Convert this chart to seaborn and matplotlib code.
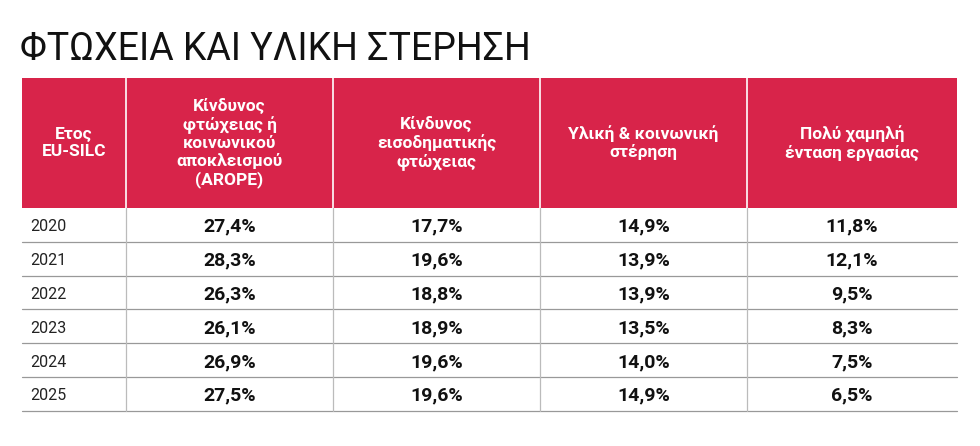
import matplotlib
matplotlib.use("Agg")
import matplotlib.pyplot as plt
import seaborn as sns
from matplotlib.patches import Rectangle

sns.set_style("white")
plt.rcParams["font.family"] = ["Roboto", "DejaVu Sans"]

title = "ΦΤΩΧΕΙΑ ΚΑΙ ΥΛΙΚΗ ΣΤΕΡΗΣΗ"
headers = ["Ετος\nEU-SILC",
           "Κίνδυνος\nφτώχειας ή\nκοινωνικού\nαποκλεισμού\n(AROPE)",
           "Κίνδυνος\nεισοδηματικής\nφτώχειας",
           "Υλική & κοινωνική\nστέρηση",
           "Πολύ χαμηλή\nένταση εργασίας"]
years = ["2020", "2021", "2022", "2023", "2024", "2025"]
arope = ["27,4%", "28,3%", "26,3%", "26,1%", "26,9%", "27,5%"]
income = ["17,7%", "19,6%", "18,8%", "18,9%", "19,6%", "19,6%"]
material = ["14,9%", "13,9%", "13,9%", "13,5%", "14,0%", "14,9%"]
work = ["11,8%", "12,1%", "9,5%", "8,3%", "7,5%", "6,5%"]

RED = "#d8244a"
col_edges = [22, 126, 333, 540, 747, 957]
head_top, head_bot = 78, 208
row_h = 33.8

fig = plt.figure(figsize=(9.8, 4.46), dpi=100)
ax = fig.add_axes([0, 0, 1, 1])
ax.set_xlim(0, 980)
ax.set_ylim(446, 0)
ax.axis("off")

ax.text(20, 50, title, fontsize=27, color="#111111", va="center", ha="left")

ax.add_patch(Rectangle((col_edges[0], head_top), col_edges[-1] - col_edges[0],
                       head_bot - head_top, color=RED, lw=0))
for i, h in enumerate(headers):
    cx = (col_edges[i] + col_edges[i + 1]) / 2
    ax.text(cx, (head_top + head_bot) / 2, h, color="white", fontsize=12.5,
            fontweight="bold", ha="center", va="center", linespacing=1.15)
for x in col_edges[1:-1]:
    ax.plot([x, x], [head_top, head_bot], color="white", lw=1.2)

columns = [arope, income, material, work]
for r, y in enumerate(years):
    top = head_bot + r * row_h
    cy = top + row_h / 2 + 2
    ax.text(col_edges[0] + 8, cy, y, fontsize=11.5, color="#222222", va="center")
    for c, vals in enumerate(columns):
        cx = (col_edges[c + 1] + col_edges[c + 2]) / 2
        ax.text(cx, cy, vals[r], fontsize=14, fontweight="bold", color="#111111",
                ha="center", va="center")
    ax.plot([col_edges[0], col_edges[-1]], [top + row_h, top + row_h],
            color="#999999", lw=0.9)
bottom = head_bot + len(years) * row_h
for x in col_edges[1:-1]:
    ax.plot([x, x], [head_bot, bottom], color="#bbbbbb", lw=0.9)

fig.savefig("out.png", dpi=100)
